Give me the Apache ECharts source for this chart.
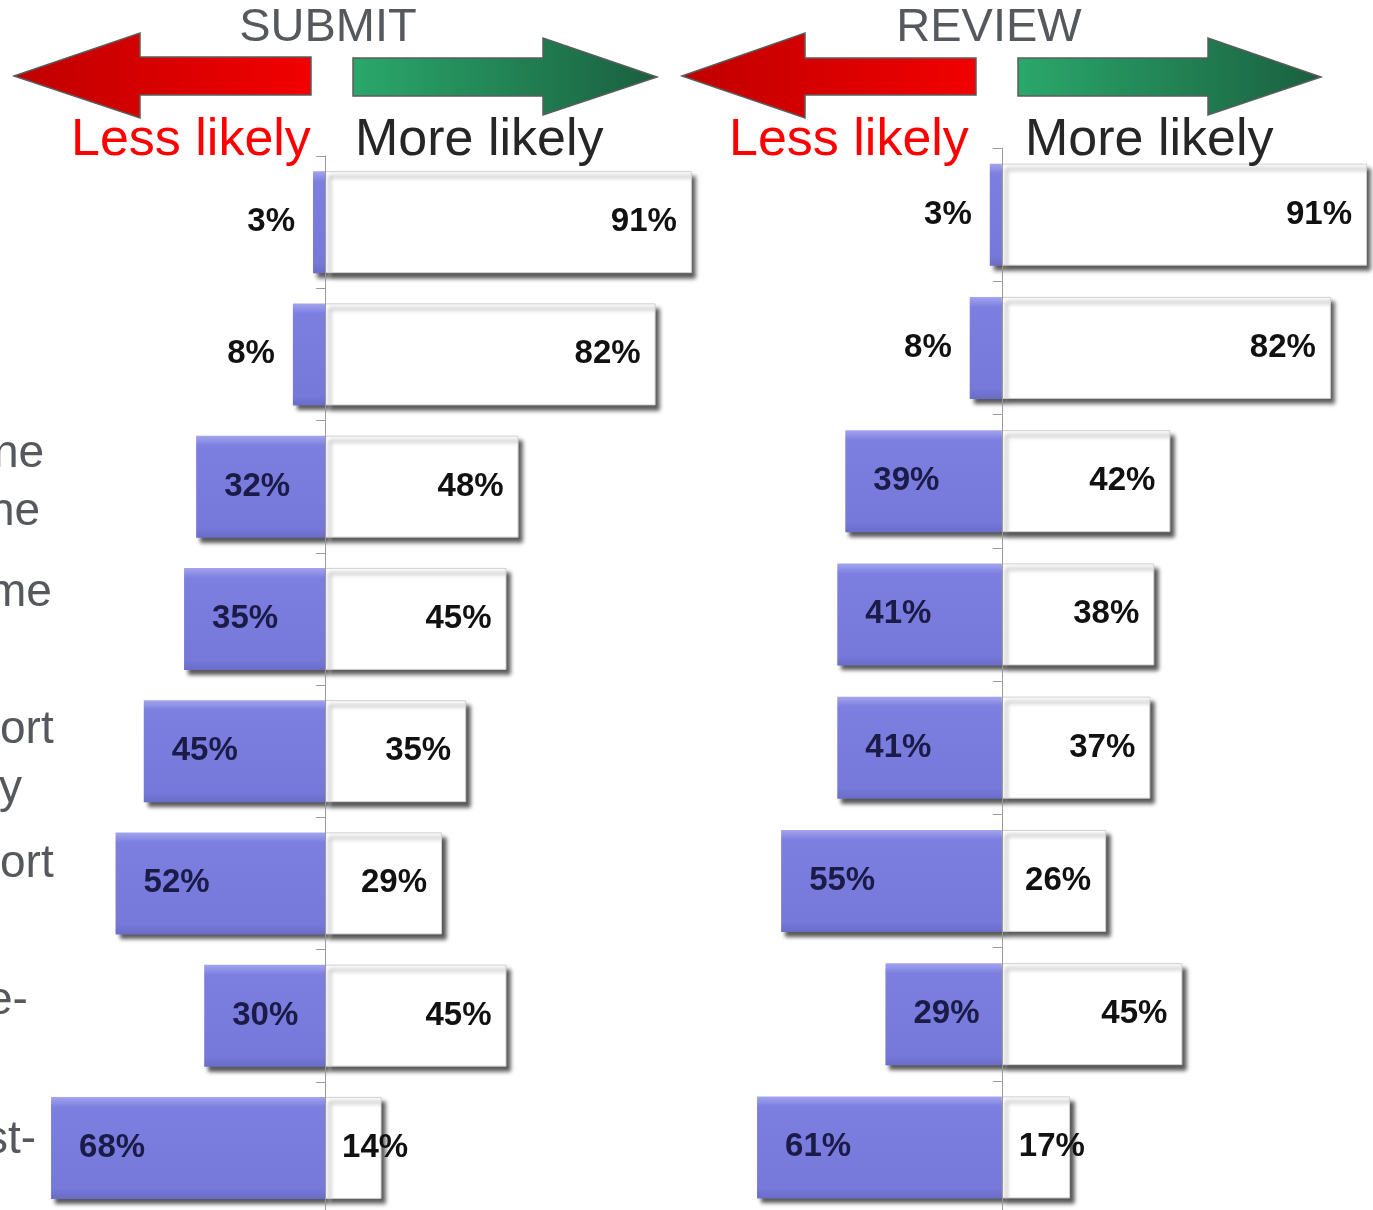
<!DOCTYPE html>
<html>
<head>
<meta charset="utf-8">
<script src="https://cdn.jsdelivr.net/npm/echarts@6/dist/echarts.min.js"></script>
<style>
html,body{margin:0;padding:0;background:#fff;}
#c{width:1373px;height:1210px;}
</style>
</head>
<body>
<div id="c"></div>
<script>
// ---- data ----
const categories = ['r1','r2','r3','r4','r5','r6','r7','r8'];
const labelFragments = ['', '', 'ne\nne', 'me\n ', 'ort\ny', 'ort\n ', 'e-\n ', 'st-\n '];
const submitLess = [3, 8, 32, 35, 45, 52, 30, 68];
const submitMore = [91, 82, 48, 45, 35, 29, 45, 14];
const reviewLess = [3, 8, 39, 41, 41, 55, 29, 61];
const reviewMore = [91, 82, 42, 38, 37, 26, 45, 17];
const panelTitles = ['SUBMIT', 'REVIEW'];
const lessText = 'Less likely';
const moreText = 'More likely';

// ---- styles / layout ----
const FONT = '"Liberation Sans", Arial, sans-serif';
// per-row line heights [first line, second line] of the cut-off category text
const fragmentLineHeights = [[58,58],[58,58],[52,64],[40,52],[76,42],[40,38],[40,28],[40,16]];
// per-row left indents [first line, second line] (text is clipped by the page edge)
const fragmentIndents = [[0,0],[0,0],[8,4],[3,0],[15,14],[15,0],[2,0],[0,0]];
const purple = {
  type: 'linear', x: 0, y: 0, x2: 0, y2: 1,
  colorStops: [
    {offset: 0, color: '#a3a5ee'},
    {offset: 0.1, color: '#7c7fe0'},
    {offset: 0.9, color: '#7679da'},
    {offset: 1, color: '#6a6cc8'}
  ]
};
const shadow = {shadowColor: 'rgba(0,0,0,0.65)', shadowBlur: 4, shadowOffsetX: 4, shadowOffsetY: 5};
const labelFont = {fontFamily: FONT, fontWeight: 'bold', fontSize: 33};

function lessData(arr) {
  return arr.map(v => ({
    value: -v,
    label: v < 15
      ? {position: 'left', distance: 18, color: '#111'}
      : {position: 'insideLeft', distance: 28, color: '#1b1b48'}
  }));
}
function moreData(arr) {
  return arr.map(v => ({
    value: v,
    label: v < 20
      ? {position: 'insideLeft', distance: 17}
      : {position: 'insideRight', distance: 15}
  }));
}
const fmt = p => Math.abs(p.value) + '%';

function barSeries(idx, less, more) {
  return [
    {
      type: 'bar', name: lessText, stack: 's' + idx, xAxisIndex: idx, yAxisIndex: idx * 2,
      barWidth: 102, data: lessData(less),
      itemStyle: Object.assign({color: purple}, shadow),
      label: Object.assign({show: true, formatter: fmt}, labelFont),
      z: 2
    },
    {
      type: 'bar', name: moreText, stack: 's' + idx, xAxisIndex: idx, yAxisIndex: idx * 2,
      barWidth: 102, data: moreData(more),
      itemStyle: Object.assign({color: '#ffffff', borderColor: '#cfcfcf', borderWidth: 1}, shadow),
      label: Object.assign({show: true, formatter: fmt, color: '#111'}, labelFont),
      z: 3
    }
  ];
}

const axisY = (grid) => ({
  type: 'category', gridIndex: grid, data: categories, inverse: true,
  axisLine: {onZero: true, lineStyle: {color: '#9a9a9a', width: 1}},
  axisTick: {show: true, length: 9, lineStyle: {color: '#9a9a9a'}},
  axisLabel: {show: false}, splitLine: {show: false}, z: 5
});
const axisX = (grid, min, max) => ({
  type: 'value', gridIndex: grid, min: min, max: max,
  show: false, splitLine: {show: false}
});

const fragRich = {};
fragmentLineHeights.forEach((lh, i) => {
  [0, 1].forEach(k => {
    fragRich['r' + i + 'l' + k] = {
      fontSize: 46, lineHeight: lh[k], color: '#55595e', fontFamily: FONT,
      padding: [0, 0, 0, fragmentIndents[i][k]]
    };
  });
});
function fragFormatter(value, index) {
  return value.split('\n')
    .map((line, k) => '{r' + index + 'l' + k + '|' + (line || ' ') + '}').join('\n');
}

function arrows(redPts, greenPts) {
  return [
    {type: 'polygon', shape: {points: redPts},
     style: {fill: {type: 'linear', x: 0, y: 0, x2: 1, y2: 0,
       colorStops: [{offset: 0, color: '#bf0000'}, {offset: 1, color: '#f20000'}]},
       stroke: '#5c5c5c', lineWidth: 1.5}},
    {type: 'polygon', shape: {points: greenPts},
     style: {fill: {type: 'linear', x: 0, y: 0, x2: 1, y2: 0,
       colorStops: [{offset: 0, color: '#2aa86b'}, {offset: 1, color: '#1a5f3f'}]},
       stroke: '#5c5c5c', lineWidth: 1.5}}
  ];
}
function txt(text, x, y, size, color, align) {
  return {type: 'text', x: x, y: y, z: 10,
    style: {text: text, font: size + 'px ' + FONT, fill: color,
      textAlign: align || 'left', textVerticalAlign: 'middle'}};
}

const graphics = [].concat(
  arrows([[14,76],[140,33],[140,57],[311,57],[311,95],[140,95],[140,118]],
         [[353,58],[543,58],[543,38],[657,77],[543,115],[543,96],[353,96]]),
  arrows([[682,76],[805,33],[805,58],[976,58],[976,95],[805,95],[805,118]],
         [[1018,58],[1208,58],[1208,38],[1321,77],[1208,115],[1208,96],[1018,96]]),
  [
    txt(panelTitles[0], 328, 28, 47, '#55595e', 'center'),
    txt(panelTitles[1], 989, 28, 47, '#55595e', 'center'),
    txt(lessText, 71, 141, 52, '#ff0000'),
    txt(moreText, 355, 141, 52, '#262626'),
    txt(lessText, 729, 141, 52, '#ff0000'),
    txt(moreText, 1025, 141, 52, '#262626')
  ]
);

const chart = echarts.init(document.getElementById('c'), null, {renderer: 'canvas'});
chart.setOption({
  backgroundColor: '#ffffff',
  animation: false,
  grid: [
    {left: 43, width: 665, top: 156, height: 1058, containLabel: false, outerBoundsMode: 'none'},
    {left: 741, width: 630, top: 148, height: 1066, containLabel: false, outerBoundsMode: 'none'}
  ],
  xAxis: [axisX(0, -70, 95), axisX(1, -65, 92)],
  yAxis: [
    axisY(0),
    {type: 'category', gridIndex: 0, data: labelFragments, inverse: true, position: 'left',
     axisLine: {show: false, onZero: false}, axisTick: {show: false},
     axisLabel: {show: true, align: 'left', margin: 58, formatter: fragFormatter, rich: fragRich,
       fontSize: 46, color: '#55595e', fontFamily: FONT}},
    axisY(1)
  ],
  series: [].concat(barSeries(0, submitLess, submitMore), barSeries(1, reviewLess, reviewMore)),
  graphic: graphics
});
</script>
</body>
</html>
